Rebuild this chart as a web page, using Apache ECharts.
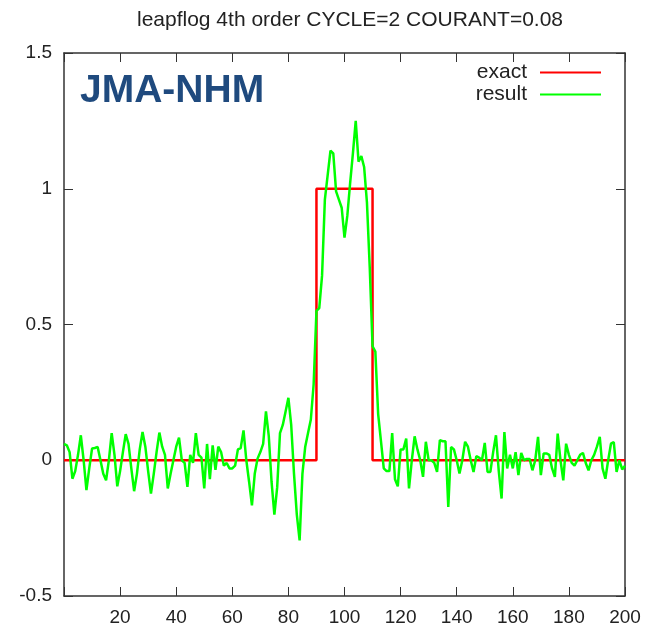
<!DOCTYPE html>
<html>
<head>
<meta charset="utf-8">
<script src="https://cdn.jsdelivr.net/npm/echarts@6/dist/echarts.min.js"></script>
<style>
html,body{margin:0;padding:0;background:#fff;}
#c{width:647px;height:629px;}
</style>
</head>
<body>
<div id="c"></div>
<script>
// ---- data ----
const titleText = 'leapflog 4th order CYCLE=2 COURANT=0.08';
const seriesNames = ['exact', 'result'];
const xTicks = [20, 40, 60, 80, 100, 120, 140, 160, 180, 200];
const yTicks = [-0.5, 0, 0.5, 1, 1.5];
// exact solution: breakpoints of the square wave
const exactX = [0, 90, 90, 110, 110, 200];
const exactY = [0, 0, 1, 1, 0, 0];
// numerical result, x = 0..200
const resultY = [
  0.06,
  0.055, 0.03, -0.068, -0.04, 0.02, 0.092, 0.0, -0.11, -0.03, 0.043,
  0.045, 0.049, 0.0, -0.05, -0.074, 0.0, 0.10, 0.02, -0.096, -0.04,
  0.03, 0.096, 0.06, -0.03, -0.114, -0.05, 0.04, 0.104, 0.05, -0.04,
  -0.123, -0.05, 0.03, 0.102, 0.05, 0.02, -0.104, -0.05, 0.0, 0.05,
  0.083, 0.0, -0.01, -0.098, 0.02, -0.01, 0.10, 0.02, 0.01, -0.104,
  0.06, -0.07, 0.055, -0.035, 0.05, 0.03, -0.02, -0.01, -0.03, -0.03,
  -0.02, 0.04, 0.045, 0.11, 0.0, -0.08, -0.166, -0.05, 0.006, 0.03,
  0.06, 0.18, 0.09, -0.08, -0.2, -0.1, 0.1, 0.13, 0.18, 0.23,
  0.13, -0.05, -0.2, -0.295, -0.05, 0.05, 0.1, 0.15, 0.28, 0.55,
  0.56, 0.68, 0.96, 1.05, 1.14, 1.13, 0.99, 0.96, 0.93, 0.82,
  0.9, 1.02, 1.13, 1.25, 1.10, 1.12, 1.08, 0.95, 0.71, 0.42,
  0.40, 0.17, 0.07, -0.03, -0.04, -0.04, 0.10, -0.07, -0.096, 0.04,
  0.04, 0.08, -0.104, 0.0, 0.088, 0.04, 0.0, -0.061, 0.068, 0.0,
  0.0, -0.01, -0.043, 0.074, 0.07, 0.07, -0.172, 0.049, 0.04, 0.0,
  -0.049, 0.0, 0.068, 0.05, 0.0, -0.043, 0.015, 0.01, 0.0, 0.064,
  -0.043, -0.043, 0.03, 0.092, -0.04, -0.141, 0.104, -0.03, 0.02, -0.03,
  0.03, -0.055, 0.027, 0.0, 0.005, 0.005, -0.037, 0.0, 0.086, -0.055,
  0.025, 0.025, 0.02, -0.03, -0.061, 0.098, 0.0, -0.074, 0.061, 0.02,
  -0.01, -0.02, 0.0, 0.02, 0.027, -0.01, -0.037, 0.0, 0.02, 0.05,
  0.086, -0.03, -0.068, 0.0, 0.061, 0.067, -0.043, 0.0, -0.034, -0.02
];

// ---- build ----
const exactData = exactX.map((x, i) => [x, exactY[i]]);
const resultData = resultY.map((y, i) => [i, y]);

const FONT = 'Liberation Sans, Arial, Helvetica, sans-serif';
const axisColor = '#333';
const tickLen = 9;

const chart = echarts.init(document.getElementById('c'), null, {renderer: 'canvas'});
const baseX = {
  type: 'value', min: 0, max: 200, interval: 20,
  axisLine: {show: true, onZero: false, lineStyle: {color: axisColor, width: 1.5}},
  axisTick: {show: true, inside: true, length: tickLen, lineStyle: {color: axisColor, width: 1}},
  splitLine: {show: false}
};
const baseY = {
  type: 'value', min: -0.5, max: 1.5, interval: 0.5,
  axisLine: {show: true, onZero: false, lineStyle: {color: axisColor, width: 1.5}},
  axisTick: {show: true, inside: true, length: tickLen, lineStyle: {color: axisColor, width: 1}},
  splitLine: {show: false}
};

chart.setOption({
  animation: false,
  backgroundColor: '#fff',
  title: {
    text: titleText, left: 345, top: 5, textAlign: 'center',
    textStyle: {fontFamily: FONT, fontSize: 21, fontWeight: 'normal', color: '#222'}
  },
  grid: {left: 64, right: 22, top: 53, bottom: 33, containLabel: false},
  legend: [
    {data: [seriesNames[0]], right: 46, top: 62, align: 'right', orient: 'vertical', padding: 0,
     icon: 'rect', itemWidth: 61, itemHeight: 2,
     textStyle: {fontFamily: FONT, fontSize: 21, color: '#222', padding: [0, 8, 0, 0]}},
    {data: [seriesNames[1]], right: 46, top: 84, align: 'right', orient: 'vertical', padding: 0,
     icon: 'rect', itemWidth: 61, itemHeight: 2,
     textStyle: {fontFamily: FONT, fontSize: 21, color: '#222', padding: [0, 8, 0, 0]}}
  ],
  xAxis: [
    Object.assign({}, baseX, {position: 'bottom',
      axisLabel: {show: true, margin: 12, fontFamily: FONT, fontSize: 19, color: '#222',
        formatter: v => xTicks.indexOf(v) >= 0 ? String(v) : ''}}),
    Object.assign({}, baseX, {position: 'top', axisLabel: {show: false}})
  ],
  yAxis: [
    Object.assign({}, baseY, {position: 'left',
      axisLabel: {show: true, margin: 12, fontFamily: FONT, fontSize: 19, color: '#222',
        formatter: v => yTicks.indexOf(v) >= 0 ? String(v) : ''}}),
    Object.assign({}, baseY, {position: 'right', axisLabel: {show: false}})
  ],
  graphic: [{
    type: 'text', left: 80, top: 72, z: 10,
    style: {text: 'JMA-NHM', font: 'bold 39px Liberation Sans, Arial, sans-serif', fill: '#1F4A7E'}
  }],
  series: [
    {name: seriesNames[0], type: 'line', data: exactData, xAxisIndex: 0, yAxisIndex: 0,
     showSymbol: false, symbol: 'none', color: '#ff0000', lineStyle: {color: '#ff0000', width: 2.5}, z: 2},
    {name: seriesNames[1], type: 'line', data: resultData, xAxisIndex: 0, yAxisIndex: 0,
     showSymbol: false, symbol: 'none', color: '#00ff00', lineStyle: {color: '#00ff00', width: 2.5}, z: 3}
  ]
});
</script>
</body>
</html>
